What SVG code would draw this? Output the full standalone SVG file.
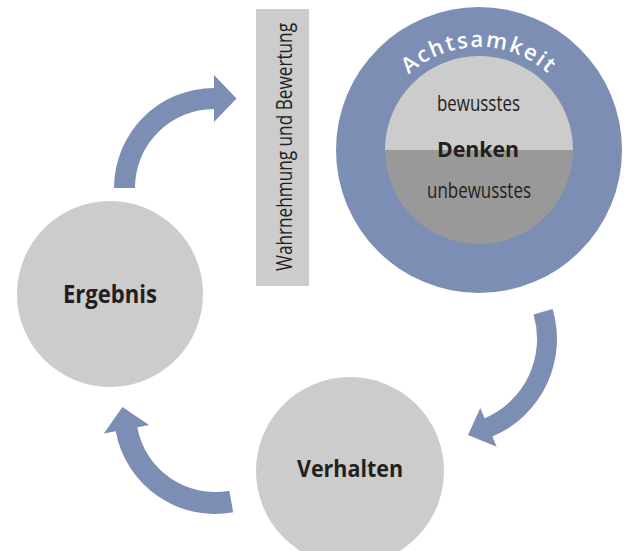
<svg xmlns="http://www.w3.org/2000/svg" width="628" height="551" viewBox="0 0 628 551">
  <style>
    .node { fill: #cccccc; }
    .arrow { fill: #7d8eb5; }
    .ring { fill: #7d8eb5; }
    .label { font-family: "Open Sans", "Liberation Sans", sans-serif; fill: #231f20; text-anchor: middle; }
    .bold { font-weight: 700; }
    .ach { font-family: "Open Sans", "Liberation Sans", sans-serif; font-weight: 600; fill: #ffffff; font-size: 22px; letter-spacing: 2px; }
  </style>
  <defs>
    <clipPath id="upperHalf"><rect x="380" y="50" width="200" height="100"/></clipPath>
    <path id="achArc" d="M376,150 A103,103 0 0 1 582,150"/>
  </defs>

  <rect width="628" height="551" fill="#ffffff"/>

  <g id="connectors">
    <path class="arrow" d="M114,188 A100,100 0 0 1 214,88 L214,75 L236.5,98.5 L214,122 L214,109 A79,79 0 0 0 135,188 Z"/>
    <path class="arrow" d="M552.6,308.9 A106,106 0 0 1 492.4,436.6 L496.7,446.7 L468,435 L480.3,408 L484.6,418.2 A86,86 0 0 0 533.5,314.6 Z"/>
    <path class="arrow" d="M233.2,512.3 A101,101 0 0 1 115.7,431.2 L103.9,433.4 L122.4,407.1 L149.1,425.1 L137.3,427.3 A79,79 0 0 0 229.3,490.7 Z"/>
  </g>

  <g id="node-wahrnehmung">
    <rect class="node" x="256" y="9" width="53" height="277"/>
    <text class="label" font-size="21" transform="translate(292,147) rotate(-90)" textLength="248" lengthAdjust="spacingAndGlyphs">Wahrnehmung und Bewertung</text>
  </g>

  <g id="node-denken">
    <circle class="ring" cx="479" cy="150" r="143"/>
    <circle cx="479" cy="150" r="94" fill="#999999"/>
    <circle cx="479" cy="150" r="94" fill="#cccccc" clip-path="url(#upperHalf)"/>
    <text class="ach"><textPath href="#achArc" startOffset="50%" text-anchor="middle">Achtsamkeit</textPath></text>
    <text class="label" x="478.5" y="111" font-size="21" textLength="83" lengthAdjust="spacingAndGlyphs">bewusstes</text>
    <text class="label bold" x="478" y="157" font-size="22" textLength="82" lengthAdjust="spacingAndGlyphs">Denken</text>
    <text class="label" x="479" y="198" font-size="21" textLength="104" lengthAdjust="spacingAndGlyphs">unbewusstes</text>
  </g>

  <g id="node-ergebnis">
    <circle class="node" cx="110" cy="294" r="93"/>
    <text class="label bold" x="110" y="303" font-size="25" textLength="94" lengthAdjust="spacingAndGlyphs">Ergebnis</text>
  </g>

  <g id="node-verhalten">
    <circle class="node" cx="350" cy="471" r="94"/>
    <text class="label bold" x="350" y="477" font-size="24" textLength="106" lengthAdjust="spacingAndGlyphs">Verhalten</text>
  </g>
</svg>
